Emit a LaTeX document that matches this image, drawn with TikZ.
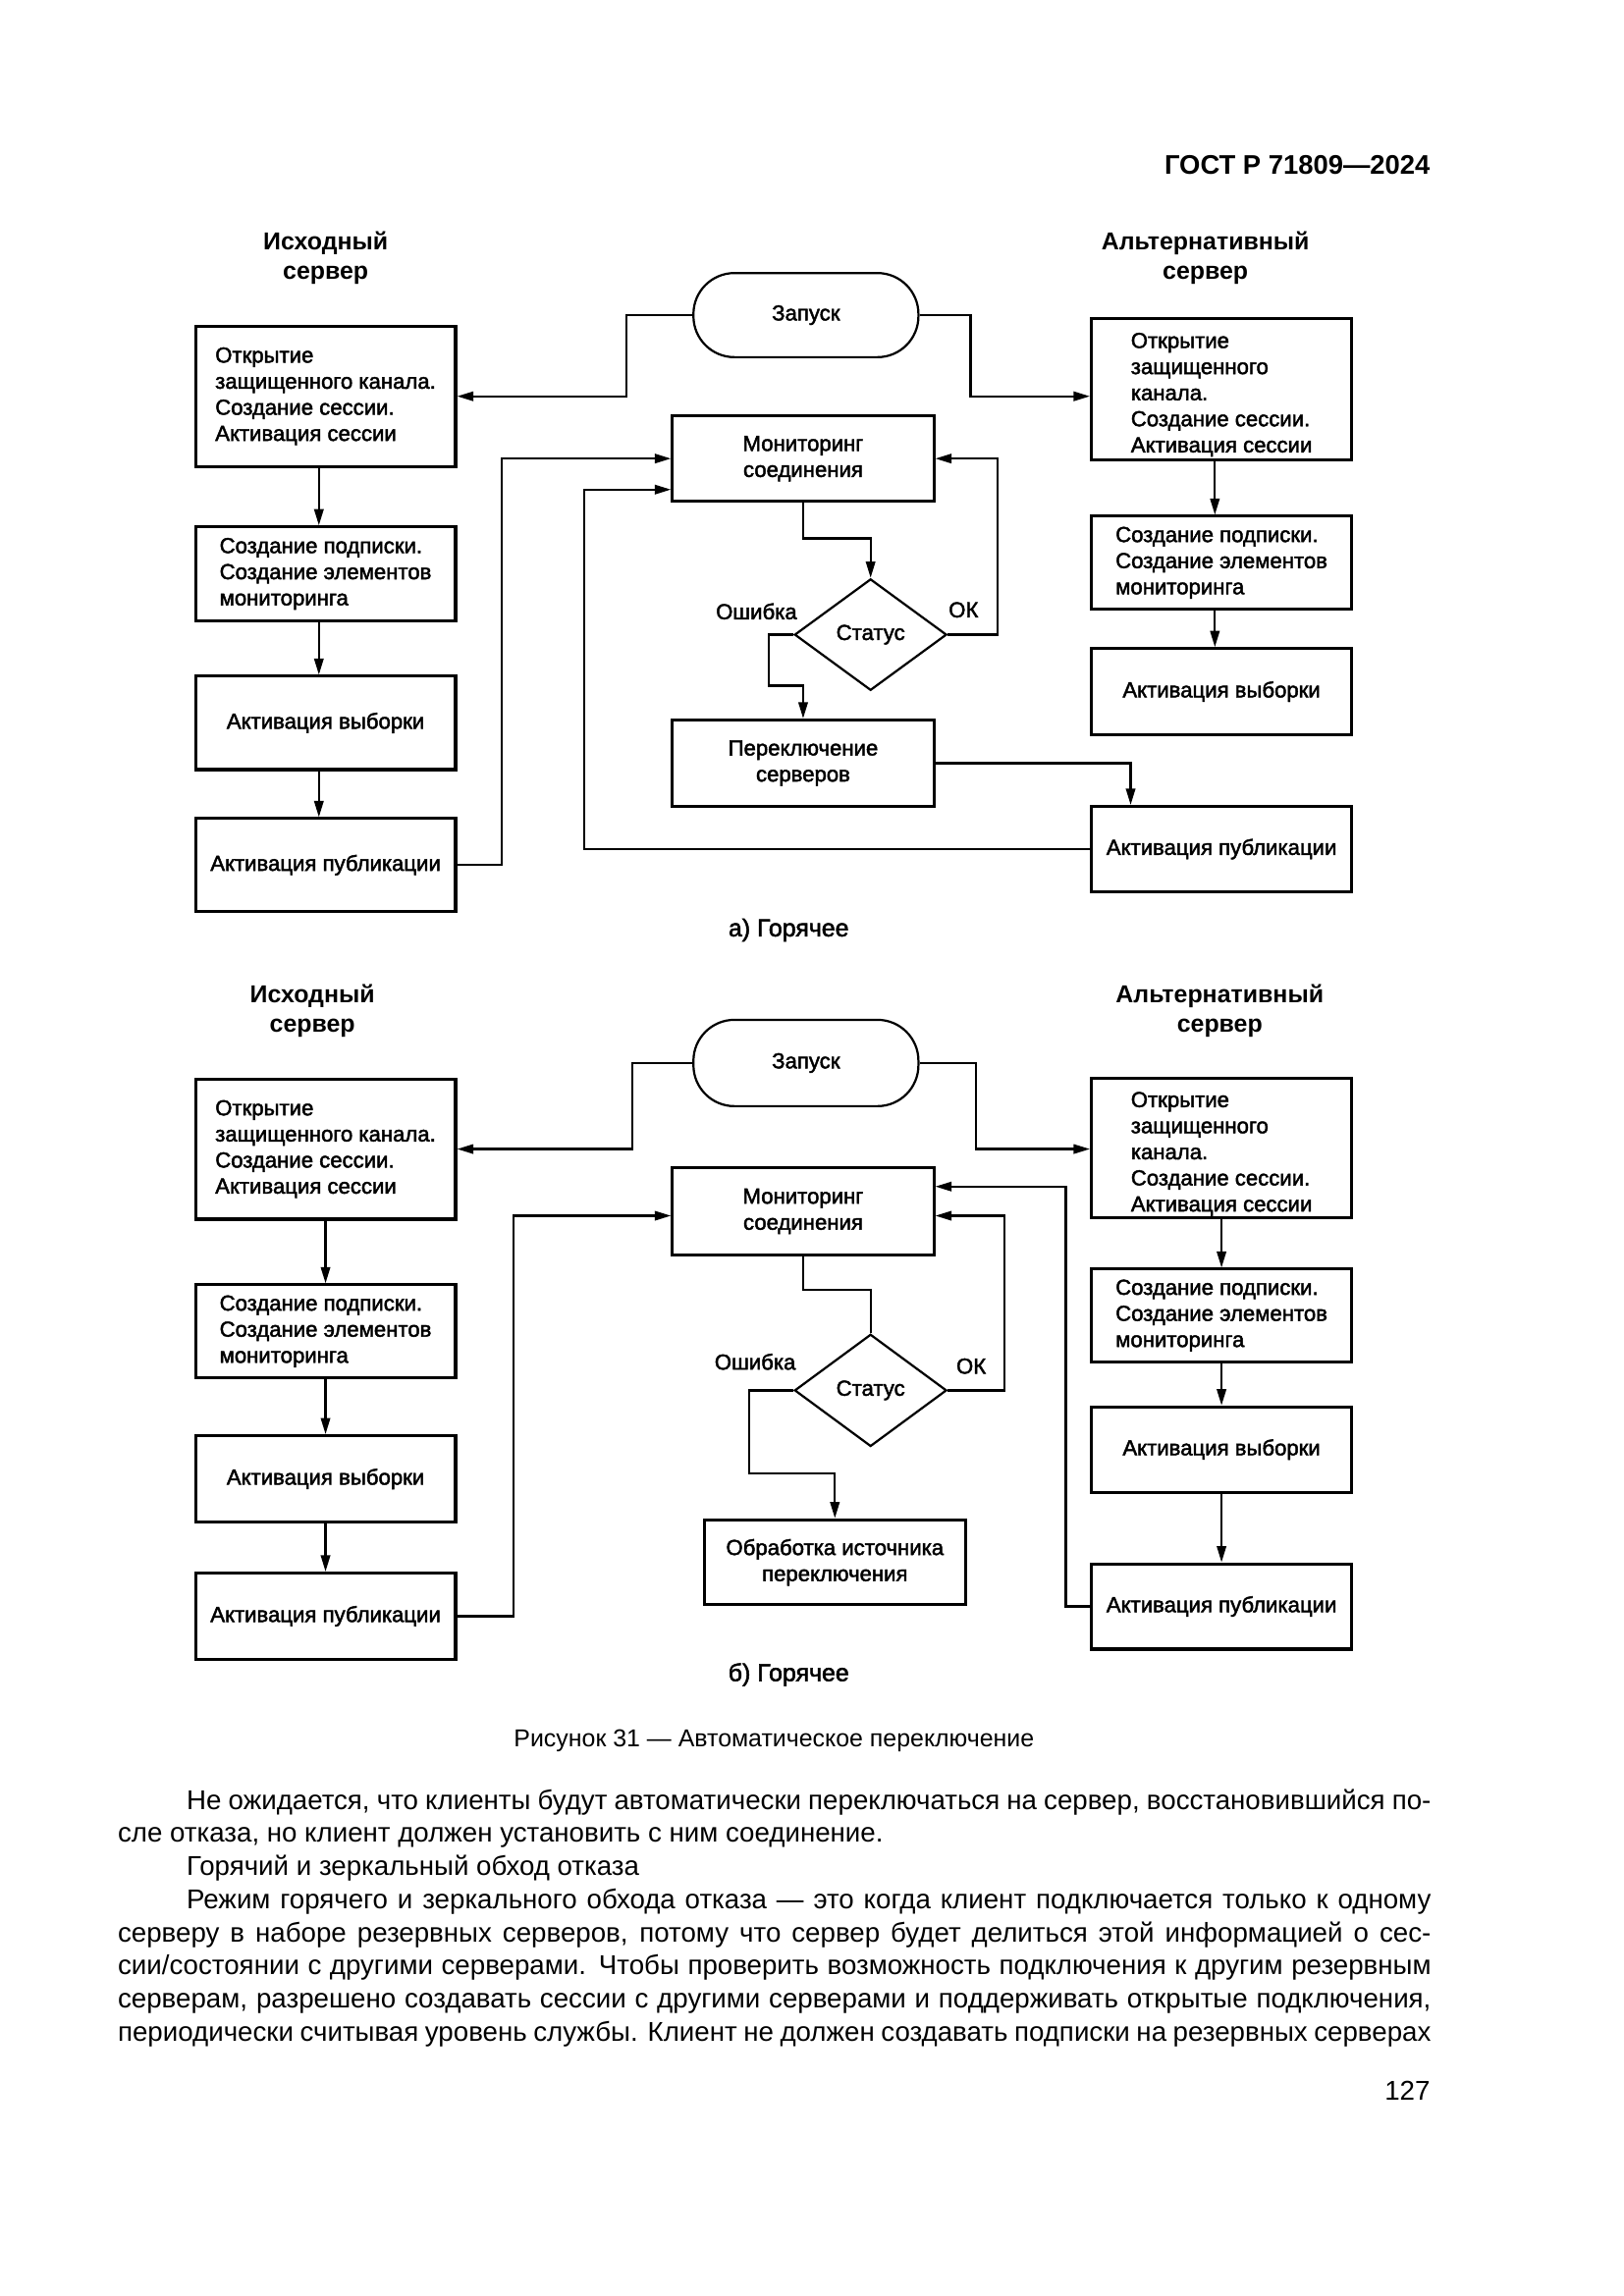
\documentclass[tikz,border=0pt]{standalone}
\usepackage{fontspec}
\setmainfont{Liberation Sans}
\newfontfamily\semib{Liberation Sans}[FakeBold=2]
\usetikzlibrary{shapes.geometric,arrows.meta,calc}
\newcommand\U{0.19091mm}
\begin{document}
\begin{tikzpicture}[x=0.19091mm,y=-0.19091mm,
  box/.style={draw, line width=1.1pt, align=left, inner sep=0pt, font=\semib\fontsize{8}{9.6}\selectfont},
  sz/.style 2 args={minimum width=#1*\U, minimum height=#2*\U},
  zap/.style={draw, line width=0.8pt, rounded corners=5.3mm, inner sep=0pt, font=\semib\fontsize{8}{9.6}\selectfont},
  dia/.style={draw, diamond, aspect=1.37, line width=0.8pt, inner sep=0pt, font=\semib\fontsize{8}{9.6}\selectfont},
  lbl/.style={inner sep=0pt, font=\semib\fontsize{8}{9.6}\selectfont},
  captxt/.style={inner sep=0pt, font=\semib\fontsize{9}{10.8}\selectfont},
  ttl/.style={inner sep=0pt, align=center, font=\bfseries\fontsize{9}{10.7}\selectfont},
  para/.style={inner sep=0pt, font=\fontsize{10}{12}\selectfont},
  ln/.style={line width=0.8pt},
  arr/.style={line width=0.8pt, -{Triangle[length=2.1mm,width=1.2mm]}}]
\fill[white] (0,0) rectangle (1100,1555.6);
\useasboundingbox (0,0) rectangle (1100,1555.6);

% header
\node[inner sep=0pt, anchor=east, font=\bfseries\fontsize{9.9}{11.5}\selectfont] (hdr) at (969,112) {ГОСТ Р 71809—2024};

% ================= part a =================
\node[ttl] (tLa) at (220.6,174.7) {Исходный\\сервер};
\node[ttl] (tRa) at (816.5,174.7) {Альтернативный\\сервер};
\node[zap, sz={152.4}{57}] (zapA) at (545.9,213.5) {Запуск};
\node[box, sz={176.2}{95}] (L1a) at (220.5,268.5) {Открытие\\защищенного канала.\\Создание сессии.\\Активация сессии};
\node[box, sz={176.2}{63.6}] (L2a) at (220.5,388.8) {Создание подписки.\\Создание элементов\\мониторинга};
\node[box, sz={176.2}{63.2}] (L3a) at (220.5,489.8) {Активация выборки};
\node[box, sz={176.2}{62.9}] (L4a) at (220.5,586.1) {Активация публикации};
\node[box, sz={177}{58.2}, align=center] (MonA) at (544,310.7) {Мониторинг\\соединения};
\node[dia, sz={103}{75.5}] (DiaA) at (589.7,430) {Статус};
\node[box, sz={177}{58.6}, align=center] (SwA) at (544,517.1) {Переключение\\серверов};
\node[box, sz={176.3}{95.4}] (A1a) at (827.4,263.7) {\rule{0pt}{3.4mm}Открытие\\защищенного\\канала.\\Создание сессии.\\Активация сессии};
\node[box, sz={176.3}{63}] (A2a) at (827.4,381.3) {Создание подписки.\\Создание элементов\\мониторинга};
\node[box, sz={176.3}{58.3}] (A3a) at (827.4,468.6) {Активация выборки};
\node[box, sz={176.3}{57.9}] (A4a) at (827.4,575.3) {Активация публикации};
\node[lbl] (errA) at (512.4,414.2) {Ошибка};
\node[lbl] (okA) at (652.6,413.2) {ОК};
\node[captxt] (capA) at (534.2,630.1) {а) Горячее};

\coordinate (xa1) at (424.5,0);
\coordinate (xa2) at (657.4,0);
\coordinate (xa3) at (340,0);
\coordinate (xa4) at (395.6,0);
\coordinate (xa5) at (675.7,0);
\coordinate (mAin2) at ($(MonA.west)+(0,21)$);

\draw[arr] (zapA.west) -| (xa1 |- L1a.east) -- (L1a.east);
\draw[arr] (zapA.east) -| (xa2 |- L1a.east) -- (A1a.west |- L1a.east);
\draw[arr] ([xshift=-4.5*\U]L1a.south) -- ([xshift=-4.5*\U]L2a.north);
\draw[arr] ([xshift=-4.5*\U]L2a.south) -- ([xshift=-4.5*\U]L3a.north);
\draw[arr] ([xshift=-4.5*\U]L3a.south) -- ([xshift=-4.5*\U]L4a.north);
\draw[arr] (L4a.east) -| (xa3 |- MonA.west) -- (MonA.west);
\draw[arr] (A4a.west) -| (xa4 |- mAin2) -- (mAin2);
\draw[arr] (MonA.south) -- ++(0,24) -| (DiaA.north);
\draw[arr] (DiaA.east) -| (xa5 |- MonA.east) -- (MonA.east);
\draw[arr] (DiaA.west) -| (520.7,464.6) -| (SwA.north);
\draw[arr] (SwA.east) -| ($(A4a.north west)+(27.6,0)$);
\draw[arr] ([xshift=-4.5*\U]A1a.south) -- ([xshift=-4.5*\U]A2a.north);
\draw[arr] ([xshift=-4.5*\U]A2a.south) -- ([xshift=-4.5*\U]A3a.north);

% ================= part b =================
\node[ttl] (tLb) at (211.6,684.7) {Исходный\\сервер};
\node[ttl] (tRb) at (826.2,684.7) {Альтернативный\\сервер};
\node[zap, sz={152.4}{58.5}] (zapB) at (545.9,720.2) {Запуск};
\node[box, sz={176.2}{95}] (L1b) at (220.5,778.5) {Открытие\\защищенного канала.\\Создание сессии.\\Активация сессии};
\node[box, sz={176.2}{63}] (L2b) at (220.5,902) {Создание подписки.\\Создание элементов\\мониторинга};
\node[box, sz={176.2}{58.5}] (L3b) at (220.5,1002) {Активация выборки};
\node[box, sz={176.2}{58.4}] (L4b) at (220.5,1095) {Активация публикации};
\node[box, sz={177}{58.6}, align=center] (MonB) at (544,820.7) {Мониторинг\\соединения};
\node[dia, sz={103}{76}] (DiaB) at (589.7,942) {Статус};
\node[box, sz={177}{57.7}, align=center] (ObrB) at (565.5,1058.5) {Обработка источника\\переключения};
\node[box, sz={176.3}{94.6}] (A1b) at (827.4,778) {\rule{0pt}{3.4mm}Открытие\\защищенного\\канала.\\Создание сессии.\\Активация сессии};
\node[box, sz={176.3}{62.8}] (A2b) at (827.4,891.3) {Создание подписки.\\Создание элементов\\мониторинга};
\node[box, sz={176.3}{57.8}] (A3b) at (827.4,982.1) {Активация выборки};
\node[box, sz={176.3}{57.8}] (A4b) at (827.4,1088.4) {Активация публикации};
\node[lbl] (errB) at (511.5,922.6) {Ошибка};
\node[lbl] (okB) at (657.8,925.6) {ОК};
\node[captxt] (capB) at (534.2,1134.6) {б) Горячее};

\coordinate (xb1) at (428.3,0);
\coordinate (xb2) at (661.3,0);
\coordinate (xb3) at (348,0);
\coordinate (xb5) at (680.2,0);
\coordinate (xb6) at (721.9,0);
\coordinate (mBl) at ($(MonB.west)+(0,3)$);
\coordinate (mBr1) at ($(MonB.east)+(0,3)$);
\coordinate (mBr2) at ($(MonB.east)+(0,-16.8)$);

\draw[arr] (zapB.west) -| (xb1 |- L1b.east) -- (L1b.east);
\draw[arr] (zapB.east) -| (xb2 |- L1b.east) -- (A1b.west |- L1b.east);
\draw[arr] (L1b.south) -- (L2b.north);
\draw[arr] (L2b.south) -- (L3b.north);
\draw[arr] (L3b.south) -- (L4b.north);
\draw[arr] (L4b.east) -| (xb3 |- mBl) -- (mBl);
\draw[ln] (MonB.south) -- ++(0,23) -| (DiaB.north);
\draw[arr] (DiaB.west) -| (507.2,998) -| (ObrB.north);
\draw[arr] (DiaB.east) -| (xb5 |- mBr1) -- (mBr1);
\draw[arr] (A4b.west) -| (xb6 |- mBr2) -- (mBr2);
\draw[arr] (A1b.south) -- (A2b.north);
\draw[arr] (A2b.south) -- (A3b.north);
\draw[arr] (A3b.south) -- (A4b.north);

% ================= caption and text =================
\node[inner sep=0pt, font=\fontsize{9}{11}\selectfont] (fig) at (524.3,1179.3) {Рисунок 31 — Автоматическое переключение};

\node[para, anchor=base west] (p1) at (126.1,1225.8) {\makebox[160.9mm][s]{Не ожидается, что клиенты будут автоматически переключаться на сервер, восстановившийся по-}};
\node[para, anchor=base west] (p2) at (79.5,1248.2) {сле отказа, но клиент должен установить с ним соединение.};
\node[para, anchor=base west] (p3) at (126.1,1270.7) {Горячий и зеркальный обход отказа};
\node[para, anchor=base west] (p4) at (126.1,1293.1) {\makebox[160.9mm][s]{Режим горячего и зеркального обхода отказа — это когда клиент подключается только к одному}};
\node[para, anchor=base west] (p5) at (79.5,1315.5) {\makebox[169.8mm][s]{серверу в наборе резервных серверов, потому что сервер будет делиться этой информацией о сес-}};
\node[para, anchor=base west] (p6) at (79.5,1337.9) {\makebox[169.8mm][s]{сии/состоянии с другими серверами. Чтобы проверить возможность подключения к другим резервным}};
\node[para, anchor=base west] (p7) at (79.5,1360.4) {\makebox[169.8mm][s]{серверам, разрешено создавать сессии с другими серверами и поддерживать открытые подключения,}};
\node[para, anchor=base west] (p8) at (79.5,1382.8) {\makebox[169.8mm][s]{периодически считывая уровень службы. Клиент не должен создавать подписки на резервных серверах}};

\node[inner sep=0pt, anchor=east, font=\fontsize{10}{12}\selectfont] (pg) at (969,1416.5) {127};
\end{tikzpicture}
\end{document}
